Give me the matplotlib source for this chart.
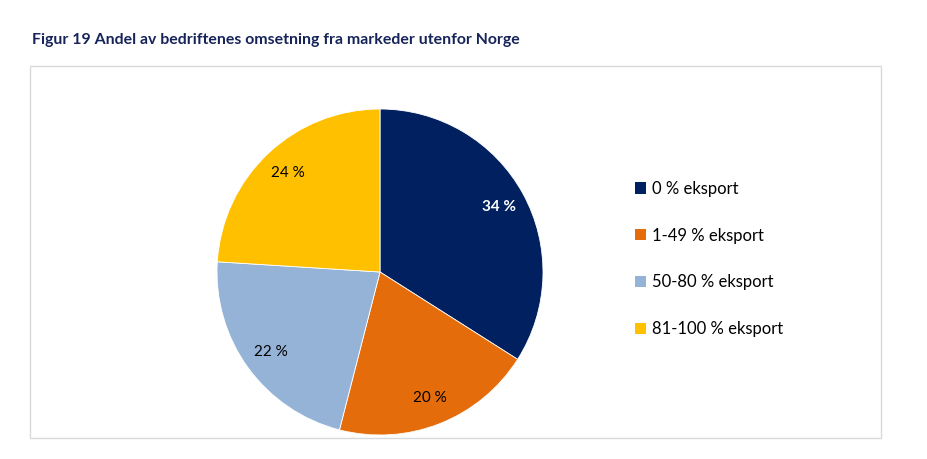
import matplotlib

matplotlib.use("Agg")

import matplotlib.pyplot as plt
from matplotlib.patches import Patch, Rectangle

plt.rcParams["font.family"] = ["Lato", "DejaVu Sans"]

categories = [
    "0 % eksport",
    "1-49 % eksport",
    "50-80 % eksport",
    "81-100 % eksport",
]
shares = [34, 20, 22, 24]
colors = ["#002060", "#E46C0A", "#95B3D7", "#FFC000"]
label_colors = ["white", "black", "black", "black"]

title = "Figur 19 Andel av bedriftenes omsetning fra markeder utenfor Norge"

W, H = 928, 459
fig = plt.figure(figsize=(W / 100, H / 100), dpi=100)

# light grey frame around the chart area
fig.patches.append(
    Rectangle(
        (30 / W, 1 - 438 / H),
        851 / W,
        372 / H,
        transform=fig.transFigure,
        fill=False,
        edgecolor="#D9D9D9",
        linewidth=1,
    )
)

fig.text(
    32 / W,
    1 - 40 / H,
    title,
    fontsize=11.4,
    fontweight="bold",
    color="#16245A",
    va="center",
    ha="left",
)

radius_px = 163
cx, cy = 380, 272
ax = fig.add_axes(
    [
        (cx - radius_px) / W,
        1 - (cy + radius_px) / H,
        2 * radius_px / W,
        2 * radius_px / H,
    ]
)

wedges, texts, autotexts = ax.pie(
    shares,
    colors=colors,
    startangle=90,
    counterclock=False,
    radius=1,
    autopct=lambda p: f"{p:.0f} %",
    pctdistance=0.83,
    wedgeprops={"edgecolor": "white", "linewidth": 0.6},
    textprops={"fontsize": 11},
)

for t, c in zip(autotexts, label_colors):
    t.set_color(c)
autotexts[0].set_fontweight("bold")

ax.set_xlim(-1.0, 1.0)
ax.set_ylim(-1.0, 1.0)
ax.set_aspect("equal")
ax.axis("off")

handles = [Patch(facecolor=c, edgecolor="none") for c in colors]
fig.legend(
    handles,
    categories,
    loc="center left",
    bbox_to_anchor=(635 / W, 1 - 259 / H),
    frameon=False,
    fontsize=12,
    handlelength=0.68,
    handleheight=0.68,
    handletextpad=0.33,
    labelspacing=1.85,
    borderpad=0,
    borderaxespad=0,
)

fig.savefig("out.png", dpi=100)
